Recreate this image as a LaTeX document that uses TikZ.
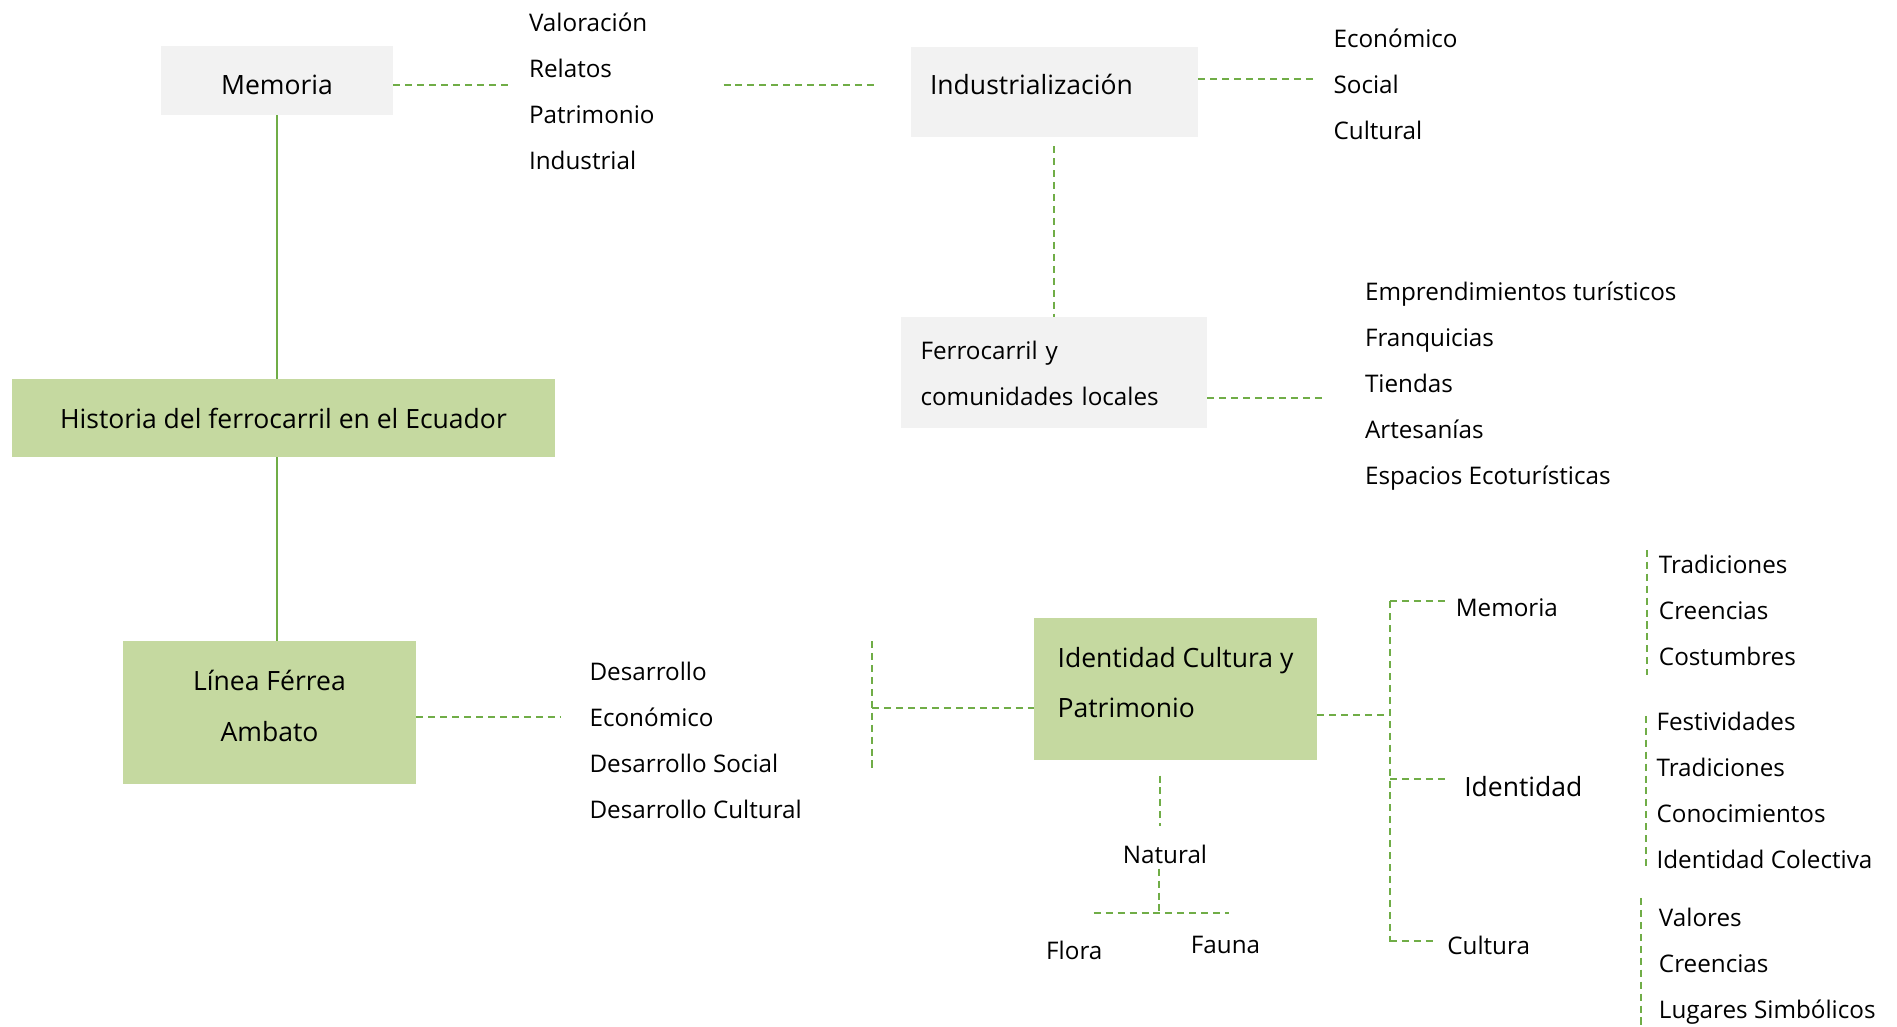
\documentclass[tikz,border=0pt]{standalone}
\usepackage{fontspec}
\setmainfont{Open Sans}
\usetikzlibrary{positioning,calc}
\definecolor{leafgreen}{HTML}{70AD47}
\definecolor{palegreen}{HTML}{C5D9A0}
\definecolor{palegrey}{HTML}{F2F2F2}
\newcommand{\lstfs}{\fontsize{13.8}{26.2}\selectfont}
\newcommand{\boxfs}{\fontsize{15.1}{28.9}\selectfont}
\tikzset{
    x=0.02cm, y=-0.02cm,
    greybox/.style={fill=palegrey, inner sep=0pt, font=\boxfs},
    greenbox/.style={fill=palegreen, inner sep=0pt, font=\boxfs},
    item/.style={inner sep=0pt, anchor=west, align=left, font=\lstfs},
    trunk/.style={leafgreen, line width=1.3pt},
    link/.style={leafgreen, line width=1.1pt, dash pattern=on 4pt off 2.8pt}
}
\begin{document}
\begin{tikzpicture}
    \useasboundingbox (0,0) rectangle (1897,1027);

    \node[greybox, minimum width=4.64cm, minimum height=1.38cm, text height=16.5pt] (memoria) at (277,80.5) {Memoria};
    \node[greybox, minimum width=5.74cm, minimum height=1.8cm, inner xsep=0.38cm, text width=4.98cm, align=left, text depth=9pt] (indus) at (1054.5,92) {Industrialización};
    \node[greybox, font=\lstfs, minimum width=6.12cm, minimum height=2.22cm, inner xsep=0.39cm, text width=5.34cm, align=left, text depth=25.5pt] (ferro) at (1054,372.5) {Ferrocarril y\\comunidades locales};
    \node[greenbox, minimum width=10.86cm, minimum height=1.56cm] (historia) at (283.5,418) {Historia del ferrocarril en el Ecuador};
    \node[greenbox, minimum width=5.86cm, minimum height=2.86cm, align=center, text depth=8pt] (linea) at (269.5,712.5) {Línea Férrea\\Ambato};
    \node[greenbox, minimum width=5.66cm, minimum height=2.84cm, align=left, text depth=7.5pt] (patrimonio) at (1175.5,689) {Identidad Cultura y\\Patrimonio};

    \node[item] (valoracion) at (528.7,91.5) {Valoración\\Relatos\\Patrimonio\\Industrial};
    \node[item] (economico) at (1333.2,84.5) {Económico\\Social\\Cultural};
    \node[item] (turismo) at (1364.7,386) {Emprendimientos turísticos\\Franquicias\\Tiendas\\Artesanías\\Espacios Ecoturísticas};
    \node[item] (desarrollo) at (589.2,740) {Desarrollo\\Económico\\Desarrollo Social\\Desarrollo Cultural};
    \node[item] (tradiciones) at (1658.6,610.5) {Tradiciones\\Creencias\\Costumbres};
    \node[item] (festividades) at (1656.2,790.5) {Festividades\\Tradiciones\\Conocimientos\\Identidad Colectiva};
    \node[item] (valores) at (1658.6,966.5) {Valores\\Creencias\\Lugares Simbólicos};

    \node[item] (memoria2) at (1455.4,607.5) {Memoria};
    \node[item, font=\boxfs] (identidad) at (1463.9,786.4) {Identidad};
    \node[item] (cultura) at (1447,945) {Cultura};
    \node[item, anchor=center] (natural) at (1165,854.5) {Natural};
    \node[item, anchor=center] (flora) at (1074.3,950) {Flora};
    \node[item, anchor=center] (fauna) at (1225.5,944.5) {Fauna};

    \coordinate (mA) at (510.5,84.7);
    \coordinate (iA) at (723.5,84.7);
    \coordinate (iB) at (873.5,84.7);
    \coordinate (iC) at (1315,78.6);
    \coordinate (iD) at (1053.7,146.4);
    \coordinate (fA) at (1326,398);
    \coordinate (lA) at (561.3,717.4);
    \coordinate (dA) at (872.3,641);
    \coordinate (dB) at (872.3,769.4);
    \coordinate (dC) at (872.3,707.7);
    \coordinate (jA) at (1390,715);
    \coordinate (jB) at (1390,601.3);
    \coordinate (jC) at (1390,942.4);
    \coordinate (jD) at (1390,779.1);
    \coordinate (jE) at (1390,941.2);
    \coordinate (nA) at (1160.2,775.5);
    \coordinate (nB) at (1160.2,826.3);
    \coordinate (nC) at (1159,868.6);
    \coordinate (bL) at (1093.7,913.4);
    \coordinate (bR) at (1229.2,913.4);

    \draw[trunk] (memoria.south) -- (memoria.south |- historia.north);
    \draw[trunk] (memoria.south |- historia.south) -- (memoria.south |- linea.north);

    \draw[link] (memoria.east |- mA) -- (mA);
    \draw[link] (iA) -- (iB);
    \draw[link] (indus.east |- iC) -- (iC);
    \draw[link] (iD) -- (iD |- ferro.north);
    \draw[link] (ferro.east |- fA) -- (fA);
    \draw[link] (linea.east |- lA) -- (lA);
    \draw[link] (dA) -- (dB);
    \draw[link] (dC) -- (dC -| patrimonio.west);
    \draw[link] (patrimonio.east |- jA) -- (jA);
    \draw[link] (jB) -- (jC);
    \draw[link, shorten >=0.2cm] (jB) -- (jB -| memoria2.west);
    \draw[link, shorten >=0.36cm] (jD) -- (jD -| identidad.west);
    \draw[link, shorten >=0.22cm] (jE) -- (jE -| cultura.west);
    \draw[link] ([shift={(-12,-5)}]tradiciones.north west) -- ([shift={(-12,9)}]tradiciones.south west);
    \draw[link] ([shift={(-10,4)}]festividades.north west) -- ([shift={(-10,1)}]festividades.south west);
    \draw[link] ([shift={(-18,-10)}]valores.north west) -- ([shift={(-18,11)}]valores.south west);
    \draw[link] (nA) -- (nB);
    \draw[link] (nC) -- (nC |- bL);
    \draw[link] (bL) -- (bR);
\end{tikzpicture}
\end{document}
